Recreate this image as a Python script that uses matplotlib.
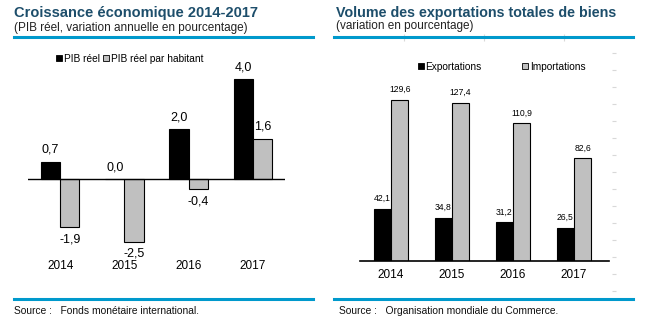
import matplotlib
matplotlib.use("Agg")
import matplotlib.pyplot as plt
import numpy as np
from matplotlib.patches import Patch

plt.rcParams['font.family'] = ['Liberation Sans', 'DejaVu Sans']

# ---- data ----
years = ["2014", "2015", "2016", "2017"]
pib_reel = [0.7, 0.0, 2.0, 4.0]
pib_hab = [-1.9, -2.5, -0.4, 1.6]
exportations = [42.1, 34.8, 31.2, 26.5]
importations = [129.6, 127.4, 110.9, 82.6]

W, H = 646, 324
fig = plt.figure(figsize=(W / 100, H / 100), dpi=100)

def fx(x):
    return x / W

def fy(y):
    return 1 - y / H

def ax_rect(x0, y0, x1, y1):
    return [fx(x0), fy(y1), fx(x1) - fx(x0), (y1 - y0) / H]

TITLE_C = "#1d4e6b"
BLUE = "#0099cc"
GRAY = "#c0c0c0"
fmt = lambda v: f"{v:.1f}".replace(".", ",")

# ---- header / footer lines ----
for (x0, x1) in [(14, 313), (334, 633)]:
    for y in (37, 299):
        fig.add_artist(plt.Line2D([fx(x0), fx(x1)], [fy(y), fy(y)], color=BLUE, lw=2.2))

fig.text(fx(14), fy(13), "Croissance économique 2014-2017", fontsize=10.5, color=TITLE_C,
         va="center", ha="left", fontweight="bold")
fig.text(fx(14), fy(28), "(PIB réel, variation annuelle en pourcentage)", fontsize=8.5,
         color="#222222", va="center", ha="left")
fig.text(fx(336), fy(13), "Volume des exportations totales de biens", fontsize=10.3, color=TITLE_C,
         va="center", ha="left", fontweight="bold")
fig.text(fx(336), fy(26), "(variation en pourcentage)", fontsize=8.5,
         color="#222222", va="center", ha="left")
fig.text(fx(14), fy(311), "Source :   Fonds monétaire international.", fontsize=7.4,
         color="#111111", va="center", ha="left")
fig.text(fx(339), fy(311), "Source :   Organisation mondiale du Commerce.", fontsize=7.4,
         color="#111111", va="center", ha="left")

# ---- left chart ----
axL = fig.add_axes(ax_rect(28, 70, 285, 250))
x = np.arange(len(years))
bw = 0.3
axL.bar(x - bw / 2, pib_reel, bw, color="black", edgecolor="black", lw=0.8, label="PIB réel")
axL.bar(x + bw / 2, pib_hab, bw, color=GRAY, edgecolor="black", lw=0.8, label="PIB réel par habitant")
axL.set_xlim(-0.5, 3.5)
axL.set_ylim(-(250 - 179) / 25, (179 - 70) / 25)
axL.axhline(0, color="black", lw=1)
for s in axL.spines.values():
    s.set_visible(False)
axL.set_yticks([])
axL.set_xticks([])
for xi, v in zip(x - bw / 2, pib_reel):
    axL.annotate(fmt(v), (xi, v), xytext=(0, 8.5 if v >= 0 else -8.5), textcoords="offset points",
                 ha="center", va="center", fontsize=9)
for xi, v in zip(x + bw / 2, pib_hab):
    axL.annotate(fmt(v), (xi, v), xytext=(0, 9 if v >= 0 else -9), textcoords="offset points",
                 ha="center", va="center", fontsize=9)
for xi, yr in zip(x, years):
    axL.text(xi, -(266 - 250) / 180, yr, transform=axL.get_xaxis_transform(), ha="center",
             va="center", fontsize=8.5)
axL.legend(handles=[Patch(facecolor="black", edgecolor="black", lw=0.6, label="PIB réel"),
                    Patch(facecolor=GRAY, edgecolor="black", lw=0.6, label="PIB réel par habitant")],
           loc="center left", bbox_to_anchor=(fx(56), fy(59)), bbox_transform=fig.transFigure,
           ncol=2, frameon=False, fontsize=7.3, handlelength=0.55, handleheight=0.55,
           handletextpad=0.2, columnspacing=0.35, borderpad=0, borderaxespad=0)

# ---- right chart ----
axR = fig.add_axes(ax_rect(360, 50, 609, 261))
bw2 = 0.285
axR.bar(x - bw2 / 2, exportations, bw2, color="black", edgecolor="black", lw=0.8)
axR.bar(x + bw2 / 2, importations, bw2, color=GRAY, edgecolor="black", lw=0.8)
axR.set_xlim(-0.508, 3.574)
axR.set_ylim(0, (261 - 50) / 1.242)
for k, s in axR.spines.items():
    s.set_visible(k == "bottom")
axR.spines["bottom"].set_linewidth(1.2)
axR.set_yticks([])
axR.set_xticks(x)
axR.set_xticklabels(years, fontsize=8.5)
axR.tick_params(axis="x", length=0, pad=6)
for xi, v in zip(x - bw2 / 2, exportations):
    axR.annotate(fmt(v), (xi, v), xytext=(0, 7.5), textcoords="offset points",
                 ha="center", va="center", fontsize=6.2)
for xi, v in zip(x + bw2 / 2, importations):
    axR.annotate(fmt(v), (xi, v), xytext=(0, 7.5), textcoords="offset points",
                 ha="center", va="center", fontsize=6.2)
axR.legend(handles=[Patch(facecolor="black", edgecolor="black", lw=0.6, label="Exportations"),
                    Patch(facecolor=GRAY, edgecolor="black", lw=0.6, label="Importations")],
           loc="center left", bbox_to_anchor=(fx(418), fy(67)), bbox_transform=fig.transFigure,
           ncol=2, frameon=False, fontsize=7.3, handlelength=0.55, handleheight=0.55,
           handletextpad=0.2, columnspacing=4.0, borderpad=0, borderaxespad=0)

# ---- faint tick artefacts ----
axT = fig.add_axes(ax_rect(609, 53, 612, 291))
axT.set_ylim(0, 14)
axT.set_yticks(np.arange(15))
axT.set_xticks([])
axT.tick_params(axis="y", left=False, right=True, labelleft=False, length=3, color="#d8d8d8", width=0.8)
axT.patch.set_visible(False)
for s in axT.spines.values():
    s.set_visible(False)

axV = fig.add_axes(ax_rect(404, 40, 564, 41))
axV.set_xlim(0, 2)
axV.set_xticks([0, 1, 2])
axV.set_yticks([])
axV.tick_params(axis="x", bottom=True, labelbottom=False, direction="in", length=5,
                color="#d8d8d8", width=0.8)
axV.patch.set_visible(False)
for s in axV.spines.values():
    s.set_visible(False)

fig.savefig("out.png", dpi=100)
